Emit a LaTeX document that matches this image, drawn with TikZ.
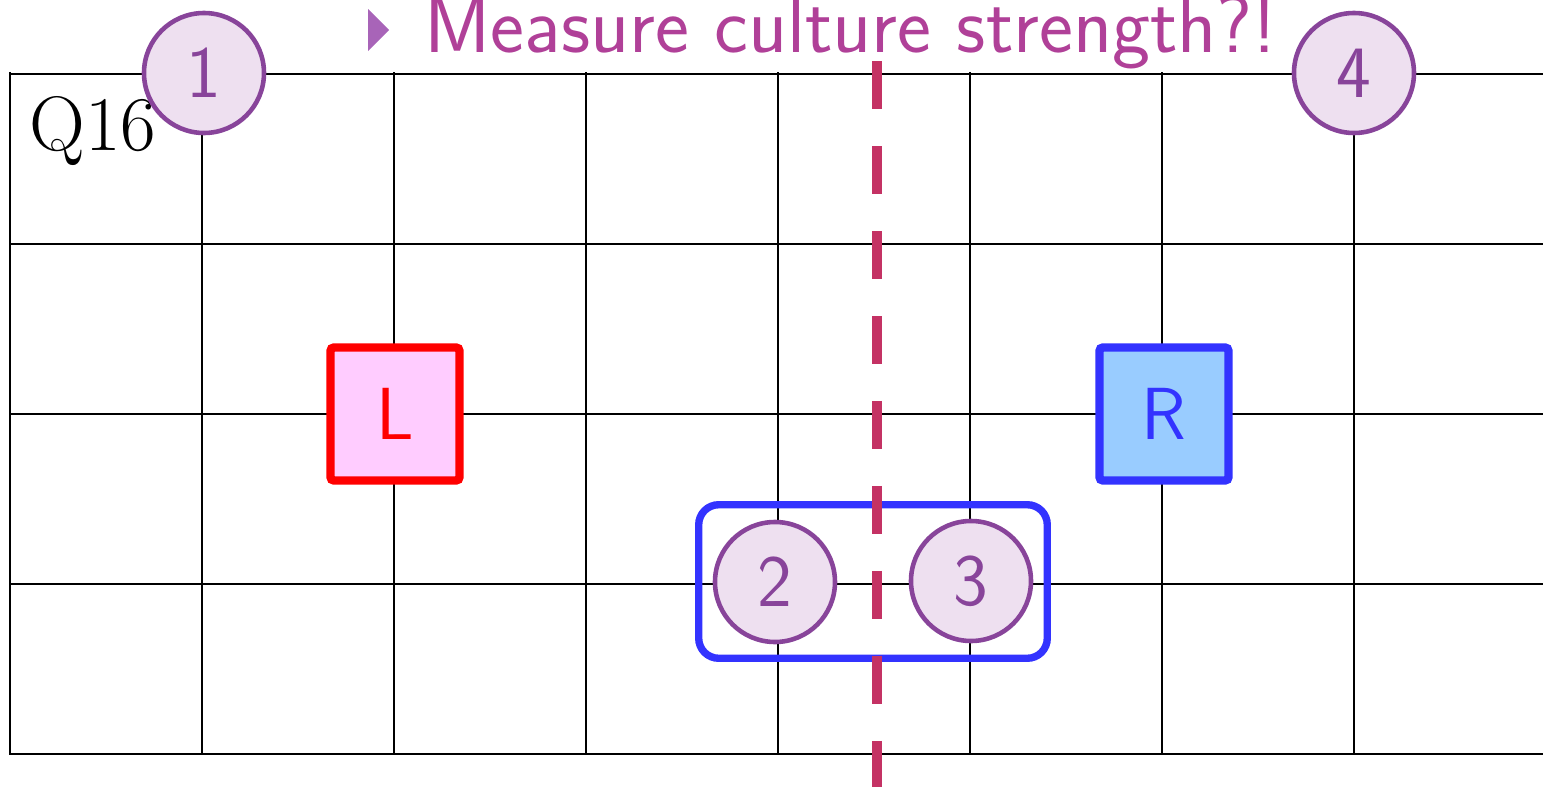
\documentclass[tikz,border=0pt]{standalone}
\usepackage{amsmath,amssymb}
\usepackage{xcolor}
\usepackage{tikz}
\usetikzlibrary{positioning, fit, calc}

\definecolor{titlec}{RGB}{176,64,152}
\definecolor{bulletc}{RGB}{168,100,184}
\definecolor{spotline}{RGB}{136,68,154}
\definecolor{spotfill}{RGB}{238,224,240}
\definecolor{cutc}{RGB}{196,50,100}
\definecolor{lfill}{RGB}{255,204,255}
\definecolor{rfill}{RGB}{153,204,255}
\definecolor{pairblue}{RGB}{51,51,255}

\begin{document}
\begin{tikzpicture}[
  gridline/.style={line width=0.8pt, line cap=rect},
  spot/.style={circle, draw=spotline, fill=spotfill, line width=1.3pt, minimum size=1.2cm, inner sep=0pt, text=spotline, font=\sffamily\fontsize{21}{21}\selectfont},
  side/.style={line width=2.4pt, rounded corners=1pt, minimum width=1.29cm, minimum height=1.33cm, font=\sffamily\fontsize{21}{21}\selectfont},
  pair/.style={draw=pairblue, line width=2.1pt, rounded corners=0.2cm, inner sep=0.14cm},
  cut/.style={draw=cutc, line width=3.1pt, dash pattern=on 0.48cm off 0.37cm},
]
  \useasboundingbox (0,0) rectangle (15.43,7.87);

  % Grid
  \draw[gridline, shift={(0.10,0.33)}, xstep=1.92, ystep=1.70] (0,0) grid (15.33,6.81);

  % Label
  \node[anchor=base west, inner sep=0pt, font=\fontsize{22}{22}\selectfont] (qlabel) at (0.29, 6.37) {Q16};

  % Sides
  \node[side, draw=red, fill=lfill, text=red] (lside) at (3.95, 3.73) {L};
  \node[side, draw=pairblue, fill=rfill, text=pairblue] (rside) at (11.64, 3.73) {R};

  % Spots
  \node[spot] (s1) at (2.04, 7.14) {1};
  \node[spot] (s4) at (13.54, 7.14) {4};
  \node[spot] (s2) at (7.75, 2.05) {2};
  \node[spot] (s3) at (9.71, 2.06) {3};

  % Pair around 2 and 3
  \node[pair, fit=(s2)(s3)] (pairbox) {};

  % Cut
  \coordinate (cuttop) at (8.77, 7.26);
  \coordinate (cutbot) at (8.77, 0);
  \draw[cut] (cuttop) -- (cutbot);

  % Title
  \node[anchor=base west, inner sep=0pt, text=titlec, font=\sffamily\fontsize{23}{24}\selectfont] (title) at (4.24, 7.35) {Measure culture strength?!};
  \fill[bulletc] ($(title.base west)+(-0.56,0.01)$) -- ++(0.21,0.21) -- ++(-0.21,0.21) -- cycle;
\end{tikzpicture}
\end{document}
